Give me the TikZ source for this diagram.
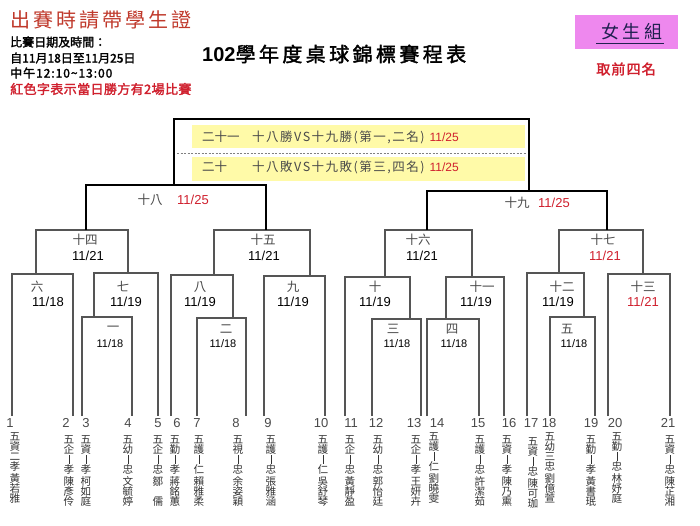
\documentclass[tikz,border=0pt]{standalone}
\usepackage{fontspec}
\setmainfont{Liberation Sans}
\newfontfamily\cjk[AutoFakeBold=2]{Noto Sans CJK TC}
\definecolor{lineg}{HTML}{555555}
\definecolor{redd}{HTML}{D0202E}
\definecolor{brick}{HTML}{C0392B}
\definecolor{pinkb}{HTML}{EE88EE}
\definecolor{yel}{HTML}{FFFAA8}
\definecolor{zhg}{HTML}{4A4A4A}
\definecolor{nmg}{HTML}{333333}
\definecolor{navy}{HTML}{202050}
\newcommand\mybar{\rule[-0.5pt]{0.5pt}{9pt}}
\newcommand\vname[7]{#1\\#2\\#3\\#4\\[2pt]#5\\#6\\#7}
\begin{document}
\begin{tikzpicture}[x=1pt,y=-1pt,
 bl/.style={draw=lineg,line width=1.2pt},
 tl/.style={draw=black,line width=2pt},
 zh/.style={font=\cjk\fontsize{12.5}{13}\selectfont,text=zhg,inner sep=0pt},
 dt/.style={font=\fontsize{13}{14}\selectfont,text=black,inner sep=0pt},
 dts/.style={font=\fontsize{11}{12}\selectfont,text=black,inner sep=0pt},
 rd/.style={text=redd},
 num/.style={font=\fontsize{13}{14}\selectfont,text=zhg,inner sep=0pt},
 nm/.style={font=\cjk\fontsize{10.6}{10}\selectfont,text=nmg,align=center,inner sep=0pt,anchor=north},
 hd/.style={font=\cjk\bfseries\fontsize{12}{13}\selectfont,text=black,inner sep=0pt,anchor=west},
]
\fill[white] (0,0) rectangle (700,525);
\useasboundingbox (0,0) rectangle (700,525);

% ---------- header ----------
\node[inner sep=0pt,anchor=west,text=brick,font=\cjk\fontsize{20}{22}\selectfont\addfontfeatures{LetterSpace=15}] (warn) at (10,20) {出賽時請帶學生證};
\node[hd] (h1) at (10,42) {比賽日期及時間：};
\node[hd] (h2) at (10,58) {自11月18日至11月25日};
\node[hd,font=\cjk\bfseries\fontsize{12}{13}\selectfont\addfontfeatures{LetterSpace=8}] (h3) at (10,73) {中午12:10\textasciitilde13:00};
\node[hd,text=redd,font=\cjk\bfseries\fontsize{13}{14}\selectfont\addfontfeatures{LetterSpace=3}] (h4) at (10,89) {紅色字表示當日勝方有2場比賽};
\node[inner sep=0pt,anchor=west,text=black,font=\cjk\bfseries\fontsize{20}{22}\selectfont\addfontfeatures{LetterSpace=17}] (title) at (202,54) {{\fontspec{Liberation Sans}[LetterSpace=0]\bfseries 102}學年度桌球錦標賽程表};
\fill[pinkb] (575,15) rectangle (678,49);
\node[inner sep=0pt,text=navy,font=\cjk\fontsize{18}{20}\selectfont\addfontfeatures{LetterSpace=20}] (grp) at (632,32) {女生組};
\draw[navy,line width=1pt] (596,43) -- (664,43);
\node[inner sep=0pt,text=redd,font=\cjk\bfseries\fontsize{14}{15}\selectfont\addfontfeatures{LetterSpace=8}] (top4) at (626,69) {取前四名};

% ---------- final box ----------
\fill[yel] (192,125) rectangle (525,148);
\fill[yel] (192,157) rectangle (525,181);
\draw[gray,line width=0.7pt,dash pattern=on 2pt off 1.5pt] (177,153) -- (527,153);
\node[zh,anchor=west] (f1a) at (202,137) {二十一};
\node[zh,anchor=west,font=\cjk\fontsize{12.5}{13}\selectfont\addfontfeatures{LetterSpace=12}] (f1b) at (252,137) {十八勝VS十九勝(第一,二名)\hspace{5pt}{\fontspec{Liberation Sans}\fontsize{12}{13}\selectfont\color{redd}11/25}};
\node[zh,anchor=west] (f2a) at (202,167) {二十};
\node[zh,anchor=west,font=\cjk\fontsize{12.5}{13}\selectfont\addfontfeatures{LetterSpace=12}] (f2b) at (252,167) {十八敗VS十九敗(第三,四名)\hspace{5pt}{\fontspec{Liberation Sans}\fontsize{12}{13}\selectfont\color{redd}11/25}};

% ---------- player coordinates ----------
\foreach \i/\x in {1/12,2/73,3/82,4/132,5/158,6/171,7/197,8/246,9/264,10/325,11/345,12/372,13/421,14/427,15/479,16/504,17/527,18/550,19/595,20/608,21/670}
  \coordinate (p\i) at (\x,416);

% ---------- round 1 ----------
\coordinate (m1) at (107,317); \coordinate (m2) at (221,318);
\coordinate (m3) at (396,319); \coordinate (m4) at (453,319);
\coordinate (m5) at (572,317);
\draw[bl] (p3) |- (m1) -| (p4);
\draw[bl] (p7) |- (m2) -| (p8);
\draw[bl] (p12) |- (m3) -| (p13);
\draw[bl] (p14) |- (m4) -| (p15);
\draw[bl] (p18) |- (m5) -| (p19);

% ---------- round 2 ----------
\coordinate (m6) at (43,274);  \coordinate (m7) at (126,273);
\coordinate (m8) at (202,275); \coordinate (m9) at (294,276);
\coordinate (m10) at (377,277); \coordinate (m11) at (475,277);
\coordinate (m12) at (555,273); \coordinate (m13) at (639,274);
\coordinate (l7) at (94,317); \coordinate (l8) at (233,318);
\coordinate (l10) at (410,319); \coordinate (l11) at (446,319);
\coordinate (l12) at (584,317);
\draw[bl] (p1) |- (m6) -| (p2);
\draw[bl] (l7) |- (m7) -| (p5);
\draw[bl] (p6) |- (m8) -| (l8);
\draw[bl] (p9) |- (m9) -| (p10);
\draw[bl] (p11) |- (m10) -| (l10);
\draw[bl] (l11) |- (m11) -| (p16);
\draw[bl] (p17) |- (m12) -| (l12);
\draw[bl] (p20) |- (m13) -| (p21);

% ---------- round 3 ----------
\coordinate (a14) at (36,274);  \coordinate (b14) at (128,273); \coordinate (m14) at (82,230);
\coordinate (a15) at (214,275); \coordinate (b15) at (310,276); \coordinate (m15) at (262,230);
\coordinate (a16) at (385,277); \coordinate (b16) at (472,277); \coordinate (m16) at (428,230);
\coordinate (a17) at (559,273); \coordinate (b17) at (643,274); \coordinate (m17) at (601,230);
\draw[bl] (a14) |- (m14) -| (b14);
\draw[bl] (a15) |- (m15) -| (b15);
\draw[bl] (a16) |- (m16) -| (b16);
\draw[bl] (a17) |- (m17) -| (b17);

% ---------- round 4 and final ----------
\coordinate (a18) at (86,230);  \coordinate (b18) at (266,230); \coordinate (m18) at (174,185);
\coordinate (a19) at (427,230); \coordinate (b19) at (607,230); \coordinate (m19) at (529,191);
\coordinate (fin) at (351,119);
\draw[tl] (a18) |- (m18) -| (b18);
\draw[tl] (a19) |- (m19) -| (b19);
\draw[tl] (m18) |- (fin) -| (m19);

% ---------- match labels ----------
\node[zh] (n1) at (113,329) {一};   \node[dts] (d1) at (110,344) {11/18};
\node[zh] (n2) at (226,329) {二};   \node[dts] (d2) at (223,344) {11/18};
\node[zh] (n3) at (393,329) {三};   \node[dts] (d3) at (397,344) {11/18};
\node[zh] (n4) at (452,329) {四};   \node[dts] (d4) at (454,344) {11/18};
\node[zh] (n5) at (567,329) {五};   \node[dts] (d5) at (574,344) {11/18};
\node[zh] (n6) at (37,287) {六};    \node[dt] (d6) at (48,302) {11/18};
\node[zh] (n7) at (123,287) {七};   \node[dt] (d7) at (126,302) {11/19};
\node[zh] (n8) at (200,287) {八};   \node[dt] (d8) at (200,302) {11/19};
\node[zh] (n9) at (293,287) {九};   \node[dt] (d9) at (293,302) {11/19};
\node[zh] (n10) at (375,287) {十};  \node[dt] (d10) at (375,302) {11/19};
\node[zh] (n11) at (482,287) {十一}; \node[dt] (d11) at (476,302) {11/19};
\node[zh] (n12) at (562,287) {十二}; \node[dt] (d12) at (558,302) {11/19};
\node[zh] (n13) at (643,287) {十三}; \node[dt,rd] (d13) at (643,302) {11/21};
\node[zh] (n14) at (85,240) {十四};  \node[dt] (d14) at (88,256) {11/21};
\node[zh] (n15) at (263,240) {十五}; \node[dt] (d15) at (264,256) {11/21};
\node[zh] (n16) at (418,240) {十六}; \node[dt] (d16) at (422,256) {11/21};
\node[zh] (n17) at (603,240) {十七}; \node[dt,rd] (d17) at (605,256) {11/21};
\node[zh] (n18) at (150,200) {十八}; \node[dt,rd] (d18) at (193,200) {11/25};
\node[zh] (n19) at (517,203) {十九}; \node[dt,rd] (d19) at (554,203) {11/25};

% ---------- player numbers ----------
\foreach \i/\x in {1/10,2/66,3/86,4/128,5/158,6/177,7/197,8/236,9/268,10/321,11/351,12/376,13/414,14/437,15/478,16/509,17/531,18/549,19/591,20/615,21/668}
  \node[num] (num\i) at (\x,423) {\i};

% ---------- player names ----------
\node[nm] (s1) at (15,432) {\vname{五}{資}{二}{孝}{黃}{若}{雅}};
\node[nm] (s2) at (69,435) {\vname{五}{企}{\mybar}{孝}{陳}{彥}{伶}};
\node[nm] (s3) at (86,435) {\vname{五}{資}{\mybar}{孝}{柯}{如}{庭}};
\node[nm] (s4) at (128,435) {\vname{五}{幼}{\mybar}{忠}{文}{毓}{婷}};
\node[nm] (s5) at (158,435) {\vname{五}{企}{\mybar}{忠}{鄒}{~}{儒}};
\node[nm] (s6) at (175,435) {\vname{五}{勤}{\mybar}{孝}{蔣}{銘}{蕙}};
\node[nm] (s7) at (199,435) {\vname{五}{護}{\mybar}{仁}{賴}{雅}{柔}};
\node[nm] (s8) at (238,435) {\vname{五}{視}{\mybar}{忠}{余}{姿}{穎}};
\node[nm] (s9) at (271,435) {\vname{五}{護}{\mybar}{忠}{張}{雅}{涵}};
\node[nm] (s10) at (323,435) {\vname{五}{護}{\mybar}{仁}{吳}{舒}{琴}};
\node[nm] (s11) at (350,435) {\vname{五}{企}{\mybar}{忠}{黃}{靜}{盈}};
\node[nm] (s12) at (378,435) {\vname{五}{幼}{\mybar}{忠}{郭}{怡}{廷}};
\node[nm] (s13) at (416,435) {\vname{五}{企}{\mybar}{孝}{王}{妍}{卉}};
\node[nm] (s14) at (434,432) {\vname{五}{護}{\mybar}{仁}{劉}{曉}{雯}};
\node[nm] (s15) at (480,435) {\vname{五}{護}{\mybar}{忠}{許}{潔}{茹}};
\node[nm] (s16) at (507,435) {\vname{五}{資}{\mybar}{孝}{陳}{乃}{熏}};
\node[nm] (s17) at (533,437) {\vname{五}{資}{\mybar}{忠}{陳}{可}{珈}};
\node[nm] (s18) at (550,432) {\vname{五}{幼}{三}{忠}{劉}{億}{萱}};
\node[nm] (s19) at (591,435) {\vname{五}{勤}{\mybar}{孝}{黃}{書}{珉}};
\node[nm] (s20) at (617,432) {\vname{五}{勤}{\mybar}{忠}{林}{妤}{庭}};
\node[nm] (s21) at (670,435) {\vname{五}{資}{\mybar}{忠}{陳}{芷}{湘}};
\end{tikzpicture}
\end{document}
